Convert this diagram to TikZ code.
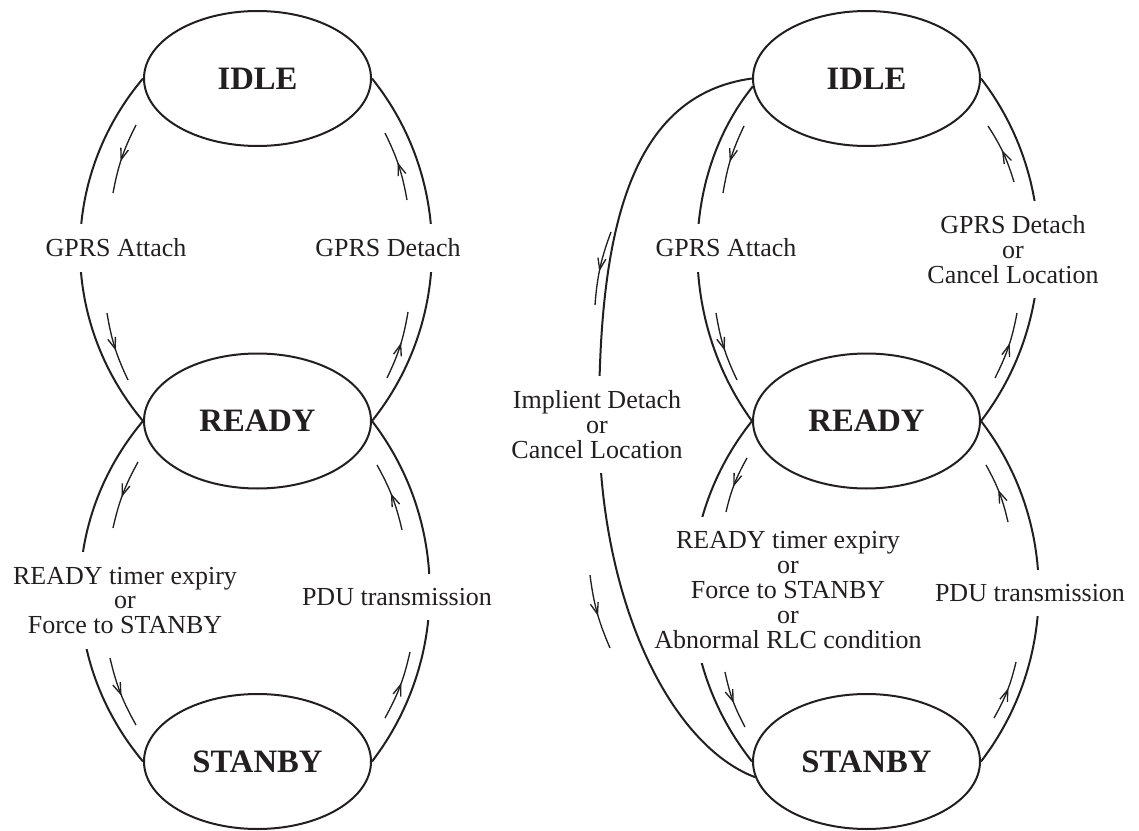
\documentclass[tikz,border=0pt]{standalone}
\usepackage{fontspec}
\setmainfont{Liberation Serif}
\usetikzlibrary{shapes.geometric, arrows.meta, decorations.markings}
\definecolor{ink}{RGB}{35,31,32}

% short direction cue drawn beside a transition curve
\newcommand\cuemark[3]{%
  \coordinate (#1s) at (#2);
  \coordinate (#1e) at (#3);
  \draw[cue] (#1s) to[bend right=8] (#1e);}

\begin{document}
\begin{tikzpicture}[x=0.75pt, y=-0.75pt,
  stbox/.style={ellipse, draw=ink, line width=1.5pt, minimum width=170.25pt,
    minimum height=101.25pt, inner sep=0pt, text=ink,
    font=\bfseries\fontsize{24.5pt}{28pt}\selectfont},
  trans/.style={draw=ink, line width=1.5pt},
  cue/.style={draw=ink, line width=1pt, postaction={decorate},
    decoration={markings, mark=at position 0.55 with
      {\arrow{Straight Barb[length=8.5pt,width=6pt]}}}},
  lbl/.style={fill=white, inner xsep=3pt, inner ysep=11pt, align=center,
    text=ink, font=\fontsize{19.5pt}{18.6pt}\selectfont}]

\useasboundingbox (0,0) rectangle (1139,831);

% ---------- states: basic machine ----------
\node[stbox] (idleL)   at (257.5,78.5)  {IDLE};
\node[stbox] (readyL)  at (257.5,421)   {READY};
\node[stbox] (stanbyL) at (257.5,761.5) {STANBY};

% ---------- states: extended machine ----------
\node[stbox] (idleR)   at (866.5,78.5)  {IDLE};
\node[stbox] (readyR)  at (866.5,421)   {READY};
\node[stbox] (stanbyR) at (866.5,761.5) {STANBY};

% ---------- transitions: basic machine ----------
\draw[trans] (idleL.west) .. controls (59,178) and (59,321) .. (readyL.west);
\draw[trans] (readyL.east) .. controls (452,321) and (452,178) .. (idleL.east);
\draw[trans] (readyL.west) .. controls (59,521) and (59,661) .. (stanbyL.west);
\draw[trans] (stanbyL.east) .. controls (449,661) and (449,521) .. (readyL.east);

% ---------- transitions: extended machine ----------
\coordinate (bendO) at (599,420);
\draw[trans] (idleR.west) .. controls (630,95) and (599,230) .. (bendO)
  .. controls (599,600) and (670,745) .. (stanbyR.188);
\draw[trans] (idleR.184) .. controls (679,178) and (679,321) .. (readyR.west);
\draw[trans] (readyR.east) .. controls (1058,321) and (1058,178) .. (idleR.east);
\draw[trans] (readyR.west) .. controls (672,521) and (672,661) .. (stanbyR.west);
\draw[trans] (stanbyR.east) .. controls (1058,661) and (1058,521) .. (readyR.east);

% ---------- direction cues: basic machine ----------
\cuemark{a1}{136,125}{113,193}
\cuemark{a2}{107,313}{128,380}
\cuemark{b1}{407,200}{385,133}
\cuemark{b2}{387,378}{408,312}
\cuemark{c1}{138,462}{113,528}
\cuemark{c2}{110,658}{136,725}
\cuemark{d1}{402,530}{377,465}
\cuemark{d2}{385,718}{410,652}

% ---------- direction cues: extended machine ----------
\cuemark{e1}{744,126}{723,193}
\cuemark{e2}{716,313}{737,380}
\cuemark{f1}{1014,182}{988,126}
\cuemark{f2}{995,378}{1017,313}
\cuemark{g1}{747,458}{726,512}
\cuemark{g2}{725,672}{745,727}
\cuemark{h1}{1008,522}{986,465}
\cuemark{h2}{994,718}{1016,662}
\cuemark{o1}{611,232}{595,305}
\cuemark{o2}{590,575}{610,648}

% ---------- transition labels (break the curves) ----------
\node[lbl] (tAttL)  at (116,248)   {GPRS Attach};
\node[lbl] (tDetL)  at (388,248)   {GPRS Detach};
\node[lbl] (tTimL)  at (125,600.5) {READY timer expiry\\or\\Force to STANBY};
\node[lbl] (tPduL)  at (397,597)   {PDU transmission};

\node[lbl] (tAttR)  at (726,248)   {GPRS Attach};
\node[lbl] (tDetR)  at (1013,249.5){GPRS Detach\\or\\Cancel Location};
\node[lbl] (tImpR)  at (597,424.5) {Implient Detach\\or\\Cancel Location};
\node[lbl] (tTimR)  at (788,590)   {READY timer expiry\\or\\Force to STANBY\\or\\Abnormal RLC condition};
\node[lbl] (tPduR)  at (1030,593)  {PDU transmission};
\end{tikzpicture}
\end{document}
